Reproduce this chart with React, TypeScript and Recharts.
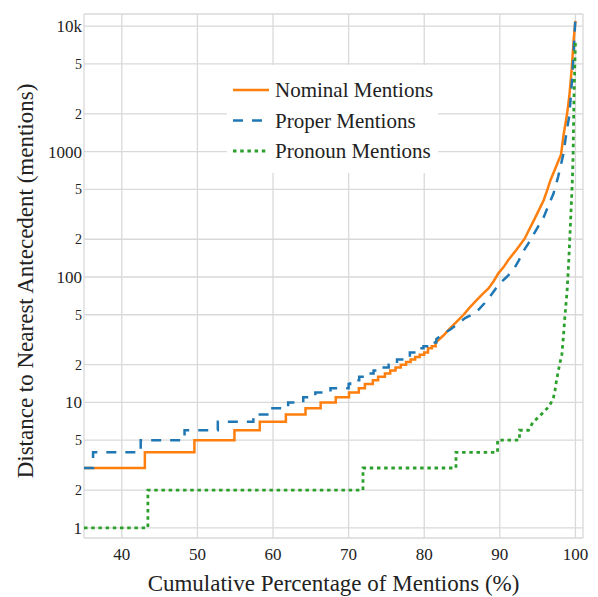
import React from 'react';
import { LineChart, Line, XAxis, YAxis, CartesianGrid, Legend } from 'recharts';

// step starts: [x, value]
const nominalSteps = [
  [35, 3], [43.05, 4], [49.6, 5], [54.9, 6], [58.25, 7], [61.7, 8], [64.3, 9],
  [66.3, 10], [68.3, 11], [70.05, 12], [71.35, 13], [72.15, 14], [73.2, 15],
  [73.9, 16], [74.8, 17], [75.5, 18], [76.2, 19], [76.9, 20], [77.6, 21],
  [78.2, 22], [78.8, 23], [79.4, 24], [80.0, 25], [80.5, 27], [81.0, 28],
];
const nominalCurve = [
  [81.5, 30], [82.5, 34], [83.4, 39], [84.3, 44], [85.2, 50], [86.0, 57],
  [86.9, 65], [87.7, 73], [88.5, 81], [89.2, 93], [89.8, 107], [90.5, 120],
  [91.1, 136], [92.2, 165], [93.3, 203], [93.9, 240], [94.4, 275], [95.1, 335],
  [95.8, 409], [96.2, 480], [96.7, 591], [97.2, 700], [97.7, 830], [98.1, 950],
  [98.4, 1320], [98.9, 2010], [99.2, 2800], [99.5, 4500], [99.8, 8260], [100, 11000],
];

const properSteps = [
  [35, 3], [36.2, 4], [42.5, 5], [48.3, 6], [52.7, 7], [57.4, 8], [59.6, 9],
  [62.0, 10], [64.0, 11], [65.6, 12], [67.6, 13], [70.0, 14], [70.2, 15],
  [71.4, 16], [72.2, 17], [73.3, 18], [74.1, 19], [75.3, 20], [76.4, 22],
  [77.3, 23], [78.1, 25], [79.0, 27], [79.9, 28], [80.8, 30],
];
const properCurve = [
  [81.6, 32], [82.5, 35], [83.4, 38], [84.4, 42], [85.4, 47], [86.3, 50],
  [87.2, 55], [88.0, 62], [88.7, 70], [89.4, 80], [90.0, 89], [90.9, 100],
  [91.8, 114], [92.5, 135], [93.1, 160], [93.8, 186], [94.4, 215], [95.1, 255],
  [95.8, 300], [96.5, 380], [97.1, 463], [97.7, 626], [98.4, 950], [98.8, 1400],
  [99.2, 1950], [99.6, 4100], [99.9, 9000], [100, 12000],
];

const pronounSteps = [
  [35, 1], [43.45, 2], [71.9, 3], [84.2, 4], [89.7, 5], [92.6, 6],
];
const pronounCurve = [
  [93.8, 6], [94.4, 7], [95.2, 7.7], [95.8, 8.4], [96.45, 9.2], [96.8, 10],
  [97.1, 11], [97.3, 12.5], [97.5, 15], [97.9, 20], [98.2, 24], [98.4, 33],
  [98.6, 48], [98.9, 78], [99.1, 128], [99.4, 320], [99.6, 600], [99.7, 1000],
  [99.8, 2600], [100, 7500],
];

const xTicks = [40, 50, 60, 70, 80, 90, 100];
const yTicks = [1, 2, 5, 10, 20, 50, 100, 200, 500, 1000, 2000, 5000, 10000];
const majorY = [1, 10, 100, 1000, 10000];

const FONT = '"Liberation Serif", "DejaVu Serif", serif';

const build = (steps: number[][], curve: number[][]) => {
  const pts: { x: number; y: number }[] = [];
  steps.forEach(([x, v], i) => {
    if (i > 0) pts.push({ x, y: steps[i - 1][1] });
    pts.push({ x, y: v });
  });
  const last = steps[steps.length - 1][1];
  pts.push({ x: curve[0][0], y: last });
  curve.forEach(([x, v]) => pts.push({ x, y: v }));
  return pts;
};

const nominalData = build(nominalSteps, nominalCurve);
const properData = build(properSteps, properCurve);
const pronounData = build(pronounSteps, pronounCurve);

const series = [
  { name: 'Nominal Mentions', color: '#ff7f0e', dash: undefined, width: 2.5 },
  { name: 'Proper Mentions', color: '#1f77b4', dash: '10 9', width: 2.5 },
  { name: 'Pronoun Mentions', color: '#2ca02c', dash: '3.5 3.7', width: 2.8 },
];

const XTick = ({ x, y, payload }: any) => (
  <text x={x} y={y} dy={14} textAnchor="middle" fontSize={17} fontFamily={FONT} fill="#222">
    {payload.value}
  </text>
);

const YTick = ({ x, y, payload }: any) => {
  const v = payload.value;
  const major = majorY.includes(v);
  const label = v === 10000 ? '10k' : major ? String(v) : String(v).charAt(0);
  return (
    <text x={x} y={y} dy={major ? 6 : 5} textAnchor="end" fontSize={major ? 17 : 14} fontFamily={FONT} fill="#222">
      {label}
    </text>
  );
};

const renderLegend = () => (
  <svg width={211} height={108} style={{ display: 'block' }}>
    <rect x={0} y={0} width={211} height={108} fill="#ffffff" />
    {series.map((s, i) => {
      const cy = 25 + 30.5 * i;
      return (
        <g key={s.name}>
          <line x1={6} x2={42} y1={cy} y2={cy} stroke={s.color} strokeWidth={s.width} strokeDasharray={s.dash} />
          <text x={48} y={cy + 7} fontSize={21} fontFamily={FONT} fill="#222">
            {s.name}
          </text>
        </g>
      );
    })}
  </svg>
);

export default function App() {
  return (
    <div style={{ position: 'absolute', left: 0, top: 0, background: '#fff', fontFamily: FONT }}>
      <LineChart width={598} height={597} margin={{ top: 14, right: 15, bottom: 0, left: 0 }}>
        <CartesianGrid stroke="#d9d9d9" strokeWidth={1.3} />
        <XAxis
          type="number"
          dataKey="x"
          domain={[35, 101]}
          ticks={xTicks}
          allowDataOverflow
          axisLine={false}
          tickLine={false}
          height={59}
          tick={<XTick />}
          label={{
            content: () => (
              <text x={333.5} y={591} textAnchor="middle" fontSize={23} fontFamily={FONT} fill="#222">
                Cumulative Percentage of Mentions (%)
              </text>
            ),
          }}
        />
        <YAxis
          type="number"
          scale="log"
          domain={[0.83, 12500]}
          ticks={yTicks}
          allowDataOverflow
          axisLine={false}
          tickLine={false}
          tickSize={0}
          tickMargin={2}
          width={84}
          tick={<YTick />}
          label={{
            content: () => (
              <text
                x={33}
                y={281}
                transform="rotate(-90, 33, 281)"
                textAnchor="middle"
                fontSize={23}
                fontFamily={FONT}
                fill="#222"
              >
                Distance to Nearest Antecedent (mentions)
              </text>
            ),
          }}
        />
        <Legend
          layout="vertical"
          align="center"
          verticalAlign="middle"
          content={renderLegend}
          wrapperStyle={{ left: 227, top: 65, width: 211, height: 108 }}
        />
        <Line data={nominalData} dataKey="y" name={series[0].name} type="linear" stroke={series[0].color}
          strokeWidth={series[0].width} dot={false} isAnimationActive={false} />
        <Line data={properData} dataKey="y" name={series[1].name} type="linear" stroke={series[1].color}
          strokeWidth={series[1].width} strokeDasharray={series[1].dash} dot={false} isAnimationActive={false} />
        <Line data={pronounData} dataKey="y" name={series[2].name} type="linear" stroke={series[2].color}
          strokeWidth={series[2].width} strokeDasharray={series[2].dash} dot={false} isAnimationActive={false} />
      </LineChart>
    </div>
  );
}
